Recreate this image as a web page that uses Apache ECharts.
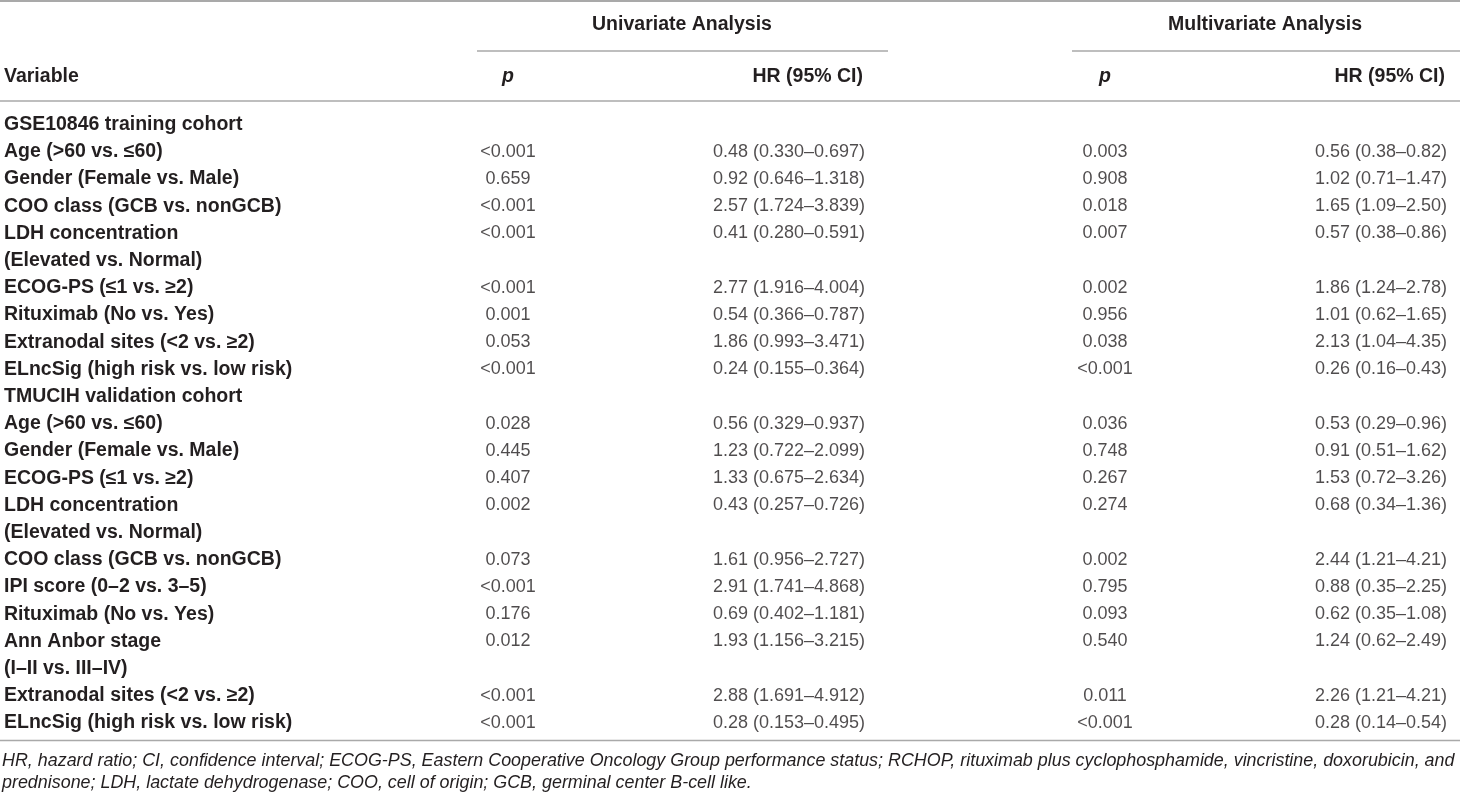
<!DOCTYPE html>
<html>
<head>
<meta charset="utf-8">
<script src="https://cdn.jsdelivr.net/npm/echarts@6/dist/echarts.min.js"></script>
<style>
  html, body { margin: 0; padding: 0; background: #fff; }
  #table_chart { width: 1460px; height: 811px; }
</style>
</head>
<body>
<div id="table_chart"></div>
<script>
// 表格数据
var variables = [
  'GSE10846 training cohort',
  'Age (>60 vs. ≤60)',
  'Gender (Female vs. Male)',
  'COO class (GCB vs. nonGCB)',
  'LDH concentration',
  '(Elevated vs. Normal)',
  'ECOG-PS (≤1 vs. ≥2)',
  'Rituximab (No vs. Yes)',
  'Extranodal sites (<2 vs. ≥2)',
  'ELncSig (high risk vs. low risk)',
  'TMUCIH validation cohort',
  'Age (>60 vs. ≤60)',
  'Gender (Female vs. Male)',
  'ECOG-PS (≤1 vs. ≥2)',
  'LDH concentration',
  '(Elevated vs. Normal)',
  'COO class (GCB vs. nonGCB)',
  'IPI score (0–2 vs. 3–5)',
  'Rituximab (No vs. Yes)',
  'Ann Anbor stage',
  '(I–II vs. III–IV)',
  'Extranodal sites (<2 vs. ≥2)',
  'ELncSig (high risk vs. low risk)'
];
var uniP = [null, '<0.001', '0.659', '<0.001', '<0.001', null, '<0.001', '0.001', '0.053', '<0.001',
  null, '0.028', '0.445', '0.407', '0.002', null, '0.073', '<0.001', '0.176', '0.012', null, '<0.001', '<0.001'];
var uniHR = [null, '0.48 (0.330–0.697)', '0.92 (0.646–1.318)', '2.57 (1.724–3.839)', '0.41 (0.280–0.591)', null,
  '2.77 (1.916–4.004)', '0.54 (0.366–0.787)', '1.86 (0.993–3.471)', '0.24 (0.155–0.364)',
  null, '0.56 (0.329–0.937)', '1.23 (0.722–2.099)', '1.33 (0.675–2.634)', '0.43 (0.257–0.726)', null,
  '1.61 (0.956–2.727)', '2.91 (1.741–4.868)', '0.69 (0.402–1.181)', '1.93 (1.156–3.215)', null,
  '2.88 (1.691–4.912)', '0.28 (0.153–0.495)'];
var multiP = [null, '0.003', '0.908', '0.018', '0.007', null, '0.002', '0.956', '0.038', '<0.001',
  null, '0.036', '0.748', '0.267', '0.274', null, '0.002', '0.795', '0.093', '0.540', null, '0.011', '<0.001'];
var multiHR = [null, '0.56 (0.38–0.82)', '1.02 (0.71–1.47)', '1.65 (1.09–2.50)', '0.57 (0.38–0.86)', null,
  '1.86 (1.24–2.78)', '1.01 (0.62–1.65)', '2.13 (1.04–4.35)', '0.26 (0.16–0.43)',
  null, '0.53 (0.29–0.96)', '0.91 (0.51–1.62)', '1.53 (0.72–3.26)', '0.68 (0.34–1.36)', null,
  '2.44 (1.21–4.21)', '0.88 (0.35–2.25)', '0.62 (0.35–1.08)', '1.24 (0.62–2.49)', null,
  '2.26 (1.21–4.21)', '0.28 (0.14–0.54)'];
var groupTitles = ['Univariate Analysis', 'Multivariate Analysis'];
var colHeaders = ['Variable', 'p', 'HR (95% CI)', 'p', 'HR (95% CI)'];
var footnotes = [
  'HR, hazard ratio; CI, confidence interval; ECOG-PS, Eastern Cooperative Oncology Group performance status; RCHOP, rituximab plus cyclophosphamide, vincristine, doxorubicin, and',
  'prednisone; LDH, lactate dehydrogenase; COO, cell of origin; GCB, germinal center B-cell like.'
];

// 布局
var FONT = '"Liberation Sans", Arial, sans-serif';
var TXT = '#231f20';
var RULE = '#a9a9a9';
var BOLD = 'bold 19.5px ' + FONT;
var colX = { uniP: 508, uniHR: 865, multiP: 1105, multiHR: 1447 };
var rowTop = 111, rowH = 27.2;
var tableBottom = rowTop + rowH * variables.length;

function cells(arr, x) {
  var out = [];
  arr.forEach(function(v, i) {
    if (v !== null) out.push([x, i, v]);
  });
  return out;
}

function textSeries(name, arr, x, rightAlign) {
  return {
    name: name,
    type: 'scatter',
    symbolSize: 0,
    silent: true,
    data: cells(arr, x),
    label: {
      show: true,
      position: rightAlign ? 'left' : 'inside',
      distance: 0,
      formatter: function(p) { return p.value[2]; },
      fontFamily: FONT,
      fontSize: 18,
      color: TXT
    },
    emphasis: { disabled: true }
  };
}

function headText(str, x, y, align, font) {
  return { type: 'text', x: x, y: y, style: { text: str, font: font, fill: TXT, textAlign: align, textVerticalAlign: 'middle' } };
}

function rule(x1, y, x2, w) {
  return { type: 'line', shape: { x1: x1, y1: y, x2: x2, y2: y }, style: { stroke: RULE, lineWidth: w } };
}

var myChart = echarts.init(document.getElementById('table_chart'));
var option = {
  backgroundColor: '#fff',
  animation: false,
  grid: { left: 0, right: 0, top: rowTop, height: rowH * variables.length },
  xAxis: { type: 'value', min: 0, max: 1460, show: false },
  yAxis: {
    type: 'category',
    inverse: true,
    data: variables,
    axisLine: { show: false },
    axisTick: { show: false },
    splitLine: { show: false },
    axisLabel: {
      interval: 0,
      align: 'left',
      margin: -4,
      fontFamily: FONT,
      fontSize: 19.5,
      fontWeight: 'bold',
      color: TXT
    }
  },
  series: [
    textSeries('uniP', uniP, colX.uniP, false),
    textSeries('uniHR', uniHR, colX.uniHR, true),
    textSeries('multiP', multiP, colX.multiP, false),
    textSeries('multiHR', multiHR, colX.multiHR, true)
  ],
  graphic: [
    // 横线
    rule(0, 1, 1460, 2),
    rule(477, 51, 888, 1.5),
    rule(1072, 51, 1460, 1.5),
    rule(0, 101, 1460, 1.5),
    rule(0, tableBottom + 4, 1460, 1.5),
    // 表头
    headText(groupTitles[0], 682, 25, 'center', BOLD),
    headText(groupTitles[1], 1265, 25, 'center', BOLD),
    headText(colHeaders[0], 4, 77, 'left', BOLD),
    headText(colHeaders[1], colX.uniP, 77, 'center', 'italic ' + BOLD),
    headText(colHeaders[2], colX.uniHR - 2, 77, 'right', BOLD),
    headText(colHeaders[3], colX.multiP, 77, 'center', 'italic ' + BOLD),
    headText(colHeaders[4], colX.multiHR - 2, 77, 'right', BOLD),
    // 注释
    headText(footnotes[0], 2, tableBottom + 24, 'left', 'italic 17.9px ' + FONT),
    headText(footnotes[1], 2, tableBottom + 46, 'left', 'italic 17.9px ' + FONT)
  ]
};
myChart.setOption(option);
</script>
</body>
</html>
